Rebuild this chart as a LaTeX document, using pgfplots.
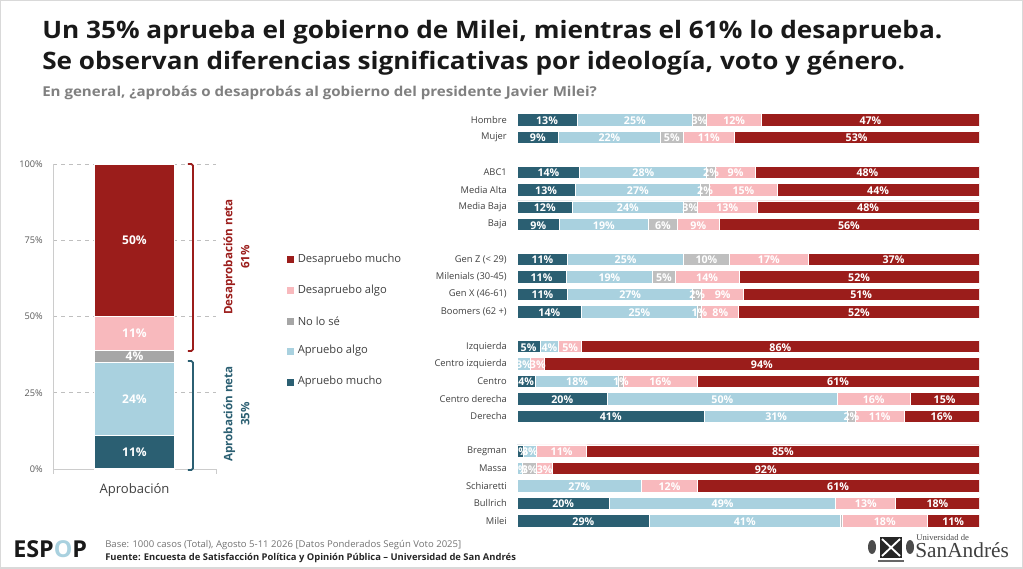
\documentclass[border=0pt]{standalone}
\usepackage{fontspec}
\setmainfont{Open Sans}
\newfontfamily\seriffont{Liberation Serif}
\usepackage{pgfplots}
\pgfplotsset{compat=1.18}
\usepackage{pgfplotstable}

\definecolor{cAM}{HTML}{2B5F72}
\definecolor{cAA}{HTML}{A9D1DF}
\definecolor{cNS}{HTML}{BFBFBF}
\definecolor{cNSl}{HTML}{A6A6A6}
\definecolor{cDA}{HTML}{F8B9BD}
\definecolor{cDM}{HTML}{9B1D1B}
\definecolor{txt}{HTML}{404040}
\definecolor{subgray}{HTML}{808080}

% overall (left)
\pgfplotstableread{
x am aa ns da dm
0 11 24 4 11 50
}\tL

% by segment (right): y = slot, am..dm = bar shares, pam..pdm = printed labels
\pgfplotstableread{
y am aa ns da dm pam paa pns pda pdm
0 13 25 3 12 47 13 25 3 12 47
1 9 22 5 11 53 9 22 5 11 53
3 13.6 27.5 1.8 8.8 48.3 14 28 2 9 48
4 12.6 27.1 2.0 14.6 43.7 13 27 2 15 44
5 12 24 3 13 48 12 24 3 13 48
6 9.2 19.2 6.4 8.9 56.3 9 19 6 9 56
8 11 25 10 17 37 11 25 10 17 37
9 10.6 18.8 4.8 13.9 51.9 11 19 5 14 52
10 11 27 2 9 51 11 27 2 9 51
11 14 25 1 8 52 14 25 1 8 52
13 5 4 0 5 86 5 4 0 5 86
14 0 3 0 3 94 0 3 0 3 94
15 4 18 1 16 61 4 18 1 16 61
16 19.6 49.7 0 15.8 14.9 20 50 0 16 15
17 40.6 31.0 1.6 10.6 16.2 41 31 2 11 16
19 1.4 2.8 0 10.9 84.9 1 3 0 11 85
20 0 1.2 3.1 3.4 92.3 0 1 3 3 92
21 0 27 0 12 61 0 27 0 12 61
22 20 49 0 13 18 20 49 0 13 18
23 28.7 41.2 0.5 18.4 11.2 29 41 0 18 11
}\tR

\pgfplotsset{
  leftgeom/.style={at={(39.75pt,74.25pt)}, anchor=south west, scale only axis,
    width=122.25pt, height=228.75pt, xmin=-1, xmax=1, ymin=0, ymax=100},
  rightgeom/.style={at={(387.75pt,342.5pt)}, anchor=north west, scale only axis,
    width=346.5pt, height=313.7pt, xmin=0, xmax=100, ymin=-0.5, ymax=23.5, y dir=reverse},
  pctlabel/.style={draw=none, mark=none, point meta=explicit,
    nodes near coords={\pgfmathfloatifflags{\pgfplotspointmeta}{0}{}{\pgfmathprintnumber{\pgfplotspointmeta}\%}},
    every node near coord/.append style={anchor=center, text=white, inner sep=0pt, #1}},
}

\begin{document}
\begin{tikzpicture}
% ---------- page frame, titles, legend, footer (pixel coordinates, y downward)
\begin{scope}[x=0.75pt,y=-0.75pt,shift={(0pt,426pt)}]
  \path[use as bounding box] (0,0) rectangle (1023,568);
  \fill[white] (0,0) rectangle (1023,568);
  \draw[black!15, line width=2.2pt] (0,0) rectangle (1023,568);
  \node[anchor=base west, inner sep=0pt, font=\bfseries\fontsize{18}{20}\selectfont, text=black!90]
    at (42,39) {\resizebox{675pt}{\height}{Un 35\% aprueba el gobierno de Milei, mientras el 61\% lo desaprueba.}};
  \node[anchor=base west, inner sep=0pt, font=\bfseries\fontsize{18}{20}\selectfont, text=black!90]
    at (42,70) {\resizebox{647pt}{\height}{Se observan diferencias significativas por ideología, voto y género.}};
  \node[anchor=base west, inner sep=0pt, font=\bfseries\fontsize{10.2}{11}\selectfont, text=subgray]
    at (42,97) {\resizebox{416pt}{\height}{En general, ¿aprobás o desaprobás al gobierno del presidente Javier Milei?}};
  % legend
  \foreach \c/\t/\yy in {cDM/Desapruebo mucho/260, cDA/Desapruebo algo/291, cNSl/No lo sé/321, cAA/Apruebo algo/351, cAM/Apruebo mucho/382}{
    \fill[\c] (287,\yy-3.5) rectangle (294,\yy+3.5);
    \node[anchor=west, inner sep=0pt, font=\fontsize{8.4}{10}\selectfont, text=txt] at (297.5,\yy) {\t};
  }
  % rotated annotations
  \node[rotate=90, align=center, font=\bfseries\fontsize{8.7}{12.75}\selectfont, text=cDM] at (236.5,257) {Desaprobación neta\\61\%};
  \node[rotate=90, align=center, font=\bfseries\fontsize{8.7}{12.75}\selectfont, text=cAM] at (236.5,414) {Aprobación neta\\35\%};
  % footer
  \node[anchor=base west, inner sep=0pt, font=\bfseries\fontsize{17.5}{20}\selectfont, text=black!90]
    at (13,557) {ESP\textcolor{cAA}{O}P};
  \node[anchor=base west, inner sep=0pt, font=\fontsize{7}{8}\selectfont, text=black!55]
    at (105,547) {\resizebox{267pt}{\height}{Base: 1000 casos (Total), Agosto 5-11 2026 [Datos Ponderados Según Voto 2025]}};
  \node[anchor=base west, inner sep=0pt, font=\bfseries\fontsize{7}{8}\selectfont, text=black!85]
    at (105,560) {\resizebox{308pt}{\height}{Fuente: Encuesta de Satisfacción Política y Opinión Pública – Universidad de San Andrés}};
  % San Andres logo
  \fill[black!70] (872,547) ellipse (4 and 7);
  \fill[black!70] (910,547) ellipse (4 and 7);
  \fill[black!85] (880,537) rectangle (902,558);
  \draw[white, line width=1.4pt] (882,539) -- (900,556) (900,539) -- (882,556);
  \draw[black!60, line width=0.8pt] (878,561) -- (904,561);
  \node[anchor=base west, inner sep=0pt, font=\seriffont\fontsize{6.5}{7}\selectfont, text=black!70] at (916,540) {Universidad de};
  \node[anchor=base west, inner sep=0pt, font=\seriffont\fontsize{16}{18}\selectfont, text=black!75] at (915,557) {SanAndrés};
\end{scope}

% ---------- left: overall approval (bars)
\begin{axis}[
  leftgeom,
  ybar stacked, bar width=60pt,
  axis x line*=bottom, axis y line*=left,
  axis line style={-, draw=black!20, line width=0.75pt},
  xtick=\empty,
  ytick={0,25,50,75,100},
  major tick length=0pt,
  yticklabel={\pgfmathprintnumber{\tick}\%},
  /pgf/number format/assume math mode=true,
  yticklabel style={font=\fontsize{6.9}{8}\selectfont, text=black!65, inner sep=0pt, xshift=-7.5pt},
  ymajorgrids, grid style={dashed, black!25, line width=0.6pt},
  clip=false,
  every axis plot/.append style={draw=white, line width=0.8pt},
]
\addplot[fill=cAM] table[x=x, y=am] {\tL};
\addplot[fill=cAA] table[x=x, y=aa] {\tL};
\addplot[fill=cNSl] table[x=x, y=ns] {\tL};
\addplot[fill=cDA] table[x=x, y=da] {\tL};
\addplot[fill=cDM] table[x=x, y=dm] {\tL};
\draw[black!20, line width=0.75pt] (axis cs:-1,0) -- ([yshift=-3.5pt]axis cs:-1,0);
\draw[black!20, line width=0.75pt] (axis cs:1,0) -- ([yshift=-3.5pt]axis cs:1,0);
\node[font=\fontsize{9.8}{11}\selectfont, text=txt] at ([yshift=-15.5pt]axis cs:0,0) {Aprobación};
\draw[cDM, line width=1.3pt, rounded corners=1.2pt] (axis cs:0.656,100) -- (axis cs:0.718,100) -- (axis cs:0.718,38.7) -- (axis cs:0.656,38.7);
\draw[cAM, line width=1.3pt, rounded corners=1.2pt] (axis cs:0.656,35.4) -- (axis cs:0.718,35.4) -- (axis cs:0.718,-0.3) -- (axis cs:0.656,-0.3);
\end{axis}
% left: labels centred in the segments
\begin{axis}[leftgeom, hide axis, clip=false, /pgf/number format/assume math mode=true]
\addplot[pctlabel={font=\bfseries\fontsize{9}{10}\selectfont}] table[x=x, y expr={\thisrow{am}/2}, meta=am] {\tL};
\addplot[pctlabel={font=\bfseries\fontsize{9}{10}\selectfont}] table[x=x, y expr={\thisrow{am}+\thisrow{aa}/2}, meta=aa] {\tL};
\addplot[pctlabel={font=\bfseries\fontsize{9}{10}\selectfont}] table[x=x, y expr={\thisrow{am}+\thisrow{aa}+\thisrow{ns}/2}, meta=ns] {\tL};
\addplot[pctlabel={font=\bfseries\fontsize{9}{10}\selectfont}] table[x=x, y expr={\thisrow{am}+\thisrow{aa}+\thisrow{ns}+\thisrow{da}/2}, meta=da] {\tL};
\addplot[pctlabel={font=\bfseries\fontsize{9}{10}\selectfont}] table[x=x, y expr={\thisrow{am}+\thisrow{aa}+\thisrow{ns}+\thisrow{da}+\thisrow{dm}/2}, meta=dm] {\tL};
\end{axis}

% ---------- right: by segment (bars)
\begin{axis}[
  rightgeom,
  xbar stacked, bar width=9.4pt,
  axis line style={draw=none},
  xtick=\empty,
  ytick={0,1,3,4,5,6,8,9,10,11,13,14,15,16,17,19,20,21,22,23},
  yticklabels={Hombre, Mujer, ABC1, Media Alta, Media Baja, Baja, Gen Z (< 29), Milenials (30-45), Gen X (46-61), Boomers (62 +), Izquierda, Centro izquierda, Centro, Centro derecha, Derecha, Bregman, Massa, Schiaretti, Bullrich, Milei},
  major tick length=0pt,
  yticklabel style={font=\fontsize{7}{8}\selectfont, text=txt, inner sep=0pt, xshift=-7.5pt},
  every axis plot/.append style={draw=white, line width=0.6pt},
]
\addplot[fill=cAM] table[x=am, y=y] {\tR};
\addplot[fill=cAA] table[x=aa, y=y] {\tR};
\addplot[fill=cNS] table[x=ns, y=y] {\tR};
\addplot[fill=cDA] table[x=da, y=y] {\tR};
\addplot[fill=cDM] table[x=dm, y=y] {\tR};
\end{axis}
% right: labels centred in the segments
\begin{axis}[rightgeom, hide axis, clip=false, /pgf/number format/assume math mode=true]
\addplot[pctlabel={font=\bfseries\fontsize{8}{8}\selectfont, yshift=-0.5pt}] table[x expr={\thisrow{am}/2}, y=y, meta=pam] {\tR};
\addplot[pctlabel={font=\bfseries\fontsize{8}{8}\selectfont, yshift=-0.5pt}] table[x expr={\thisrow{am}+\thisrow{aa}/2}, y=y, meta=paa] {\tR};
\addplot[pctlabel={font=\bfseries\fontsize{8}{8}\selectfont, yshift=-0.5pt}] table[x expr={\thisrow{am}+\thisrow{aa}+\thisrow{ns}/2}, y=y, meta=pns] {\tR};
\addplot[pctlabel={font=\bfseries\fontsize{8}{8}\selectfont, yshift=-0.5pt}] table[x expr={\thisrow{am}+\thisrow{aa}+\thisrow{ns}+\thisrow{da}/2}, y=y, meta=pda] {\tR};
\addplot[pctlabel={font=\bfseries\fontsize{8}{8}\selectfont, yshift=-0.5pt}] table[x expr={\thisrow{am}+\thisrow{aa}+\thisrow{ns}+\thisrow{da}+\thisrow{dm}/2}, y=y, meta=pdm] {\tR};
\end{axis}
\end{tikzpicture}
\end{document}
